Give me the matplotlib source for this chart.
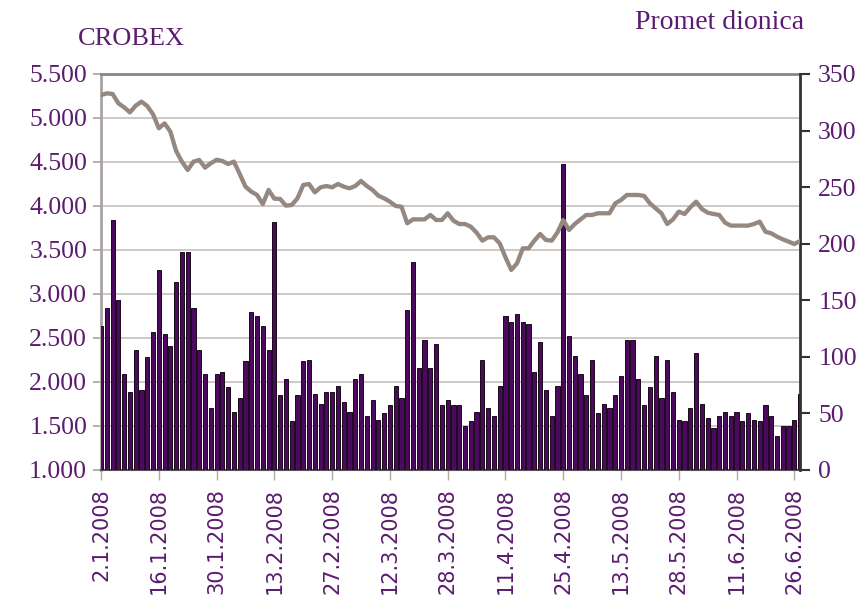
import numpy as np
import matplotlib.pyplot as plt

# Promet dionica (right axis), one bar per trading day
promet = [127, 143.5, 221, 150.6, 85, 69, 106, 71, 99.6, 122,
          177, 120.5, 110, 166.5, 193, 193, 143.5, 106, 85, 55,
          85, 87, 73, 51.6, 64, 96, 140, 136, 127.6, 106,
          219.5, 66, 80, 43, 66, 96, 97.5, 67.5, 58.6, 69,
          69, 74.5, 60, 51.6, 80, 85, 48, 62, 44.5, 50,
          57, 74.5, 64, 141.7, 184, 90.5, 115, 90.5, 111.7, 57,
          62, 57, 57, 38.6, 43, 51.6, 97.5, 55, 48, 74.5,
          136.4, 131, 138, 131, 129, 87, 113.4, 71, 48, 74.5,
          270.8, 118.7, 101, 85, 66, 97.5, 50, 58.6, 55, 66,
          83.4, 115, 115, 80, 57, 73, 101, 64, 97.5, 69,
          44.5, 43, 55, 103, 58.6, 46, 37.4, 48, 51.6, 48,
          51.6, 43, 50, 44.5, 43, 57, 48, 30, 39, 39,
          44.5, 67.5]

# CROBEX index (left axis)
crobex = [5261, 5280, 5273, 5167, 5121, 5064, 5140, 5186, 5136, 5042,
          4883, 4939, 4845, 4625, 4504, 4409, 4504, 4523, 4436, 4485,
          4525, 4511, 4477, 4504, 4364, 4220, 4163, 4125, 4023, 4182,
          4083, 4080, 4004, 4011, 4087, 4239, 4250, 4155, 4212, 4227,
          4212, 4250, 4220, 4201, 4227, 4284, 4227, 4182, 4117, 4087,
          4049, 4000, 3992, 3803, 3848, 3848, 3848, 3898, 3841, 3841,
          3917, 3833, 3795, 3795, 3765, 3697, 3606, 3644, 3644, 3576,
          3417, 3273, 3348, 3519, 3519, 3606, 3682, 3614, 3606, 3700,
          3840, 3727, 3795, 3848, 3898, 3898, 3917, 3917, 3917, 4030,
          4068, 4125, 4125, 4125, 4114, 4030, 3973, 3917, 3795, 3848,
          3936, 3909, 3985, 4049, 3966, 3924, 3909, 3898, 3811, 3777,
          3777, 3777, 3777, 3795, 3822, 3708, 3689, 3652, 3621, 3595,
          3568, 3602]

date_labels = ['2.1.2008', '16.1.2008', '30.1.2008', '13.2.2008', '27.2.2008',
               '12.3.2008', '28.3.2008', '11.4.2008', '25.4.2008', '13.5.2008',
               '28.5.2008', '11.6.2008', '26.6.2008']

left_ticks = [1000, 1500, 2000, 2500, 3000, 3500, 4000, 4500, 5000, 5500]
right_ticks = [0, 50, 100, 150, 200, 250, 300, 350]

purple = '#5b1b6f'
serif = 'Liberation Serif'

x = np.arange(len(promet))

fig = plt.figure(figsize=(8.65, 6.03), dpi=100)
ax = fig.add_axes([0.1168, 0.2206, 0.8082, 0.6567])
ax2 = ax.twinx()
ax3 = ax.twinx()

# grid + left axis
ax.set_ylim(1000, 5500)
ax.set_xlim(0, len(promet) - 1)
ax.set_yticks(left_ticks)
ax.set_yticklabels(['{:,}'.format(v).replace(',', '.') for v in left_ticks],
                   fontfamily=serif, fontsize=18.5, color=purple)
ax.grid(axis='y', color='#cbc4bf', linewidth=1.3)
ax.set_axisbelow(True)
ax.tick_params(axis='y', direction='out', length=6, width=1.2, color='#a9a3a0', pad=4)
ax.set_xticks(x[::10])
ax.set_xticklabels(date_labels, rotation=90, fontsize=15, color=purple)
ax.tick_params(axis='x', direction='out', length=7, width=1, color='#b0aaa7', pad=6)
ax.spines['left'].set_color('#a9a3a0')
ax.spines['left'].set_linewidth(2)
ax.spines['top'].set_color('#868686')
ax.spines['top'].set_linewidth(2)
ax.spines['bottom'].set_color('#555555')
ax.spines['bottom'].set_linewidth(1.5)
ax.spines['right'].set_visible(False)

# bars, right axis
ax2.bar(x, promet, width=0.72, color='#4b0a5e', edgecolor='#1a0a1a', linewidth=0.7)
ax2.set_ylim(0, 350)
ax2.set_yticks(right_ticks)
ax2.set_yticklabels([str(v) for v in right_ticks], fontfamily=serif, fontsize=18.5, color=purple)
ax2.tick_params(axis='y', direction='out', length=7, width=1.5, color='#333333', pad=6)
ax2.spines['right'].set_color('#333333')
ax2.spines['right'].set_linewidth(2)
for s in ['left', 'top', 'bottom']:
    ax2.spines[s].set_visible(False)

# CROBEX line on top
ax3.plot(x, crobex, color='#958880', linewidth=3.1, solid_joinstyle='round')
ax3.set_ylim(1000, 5500)
ax3.axis('off')

fig.text(0.09, 0.935, 'CROBEX', fontfamily=serif, fontsize=19, color=purple, va='center')
fig.text(0.93, 0.962, 'Promet dionica', fontfamily=serif, fontsize=20, color=purple,
         va='center', ha='right')

fig.savefig('out.png', dpi=100)
